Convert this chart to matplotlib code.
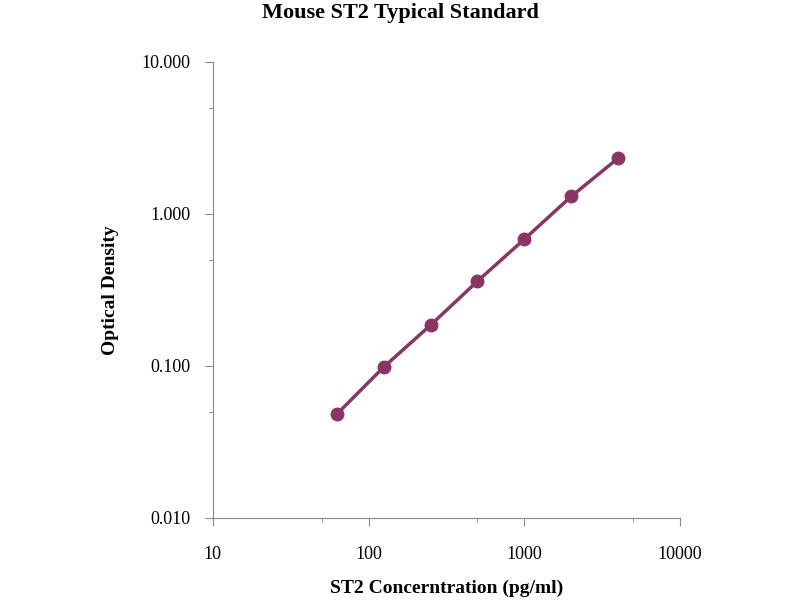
import matplotlib
matplotlib.use('Agg')
import matplotlib.pyplot as plt
from matplotlib.ticker import FixedLocator, FixedFormatter, NullFormatter, LogLocator

conc = [62.5, 125, 250, 500, 1000, 2000, 4000]
od = [0.048, 0.098, 0.185, 0.36, 0.68, 1.30, 2.32]
xticks = [10, 100, 1000, 10000]
xlabels = ['10', '100', '1000', '10000']
yticks = [0.01, 0.1, 1, 10]
ylabels = ['0.010', '0.100', '1.000', '10.000']

plt.rcParams['font.family'] = ['Liberation Serif', 'DejaVu Serif']
color = '#8b3564'

fig = plt.figure(figsize=(8, 6), dpi=100)
ax = fig.add_axes([0.266, 0.137, 0.584, 0.76])
ax.plot(conc, od, color=color, lw=2.5, marker='o', ms=9)
ax.set_xscale('log')
ax.set_yscale('log')
ax.set_xlim(10, 10000)
ax.set_ylim(0.01, 10)
ax.xaxis.set_major_locator(FixedLocator(xticks))
ax.xaxis.set_major_formatter(FixedFormatter(xlabels))
ax.xaxis.set_minor_locator(LogLocator(base=10, subs=[5]))
ax.xaxis.set_minor_formatter(NullFormatter())
ax.yaxis.set_major_locator(FixedLocator(yticks))
ax.yaxis.set_major_formatter(FixedFormatter(ylabels))
ax.yaxis.set_minor_locator(LogLocator(base=10, subs=[5]))
ax.yaxis.set_minor_formatter(NullFormatter())
for s in ['top', 'right']:
    ax.spines[s].set_visible(False)
for s in ['left', 'bottom']:
    ax.spines[s].set_color('#888888')
ax.tick_params(which='both', direction='out', color='#888888', labelsize=13)
ax.tick_params(which='major', length=6)
ax.tick_params(which='minor', length=3)
ax.tick_params(axis='x', which='major', pad=14)
ax.tick_params(axis='y', which='major', pad=10)
ax.set_xlabel('ST2 Concerntration (pg/ml)', fontsize=14, fontweight='bold', labelpad=12)
ax.set_ylabel('Optical Density', fontsize=14, fontweight='bold', labelpad=16)
fig.suptitle('Mouse ST2 Typical Standard', fontsize=16, fontweight='bold', y=0.995)
fig.savefig('out.png')
